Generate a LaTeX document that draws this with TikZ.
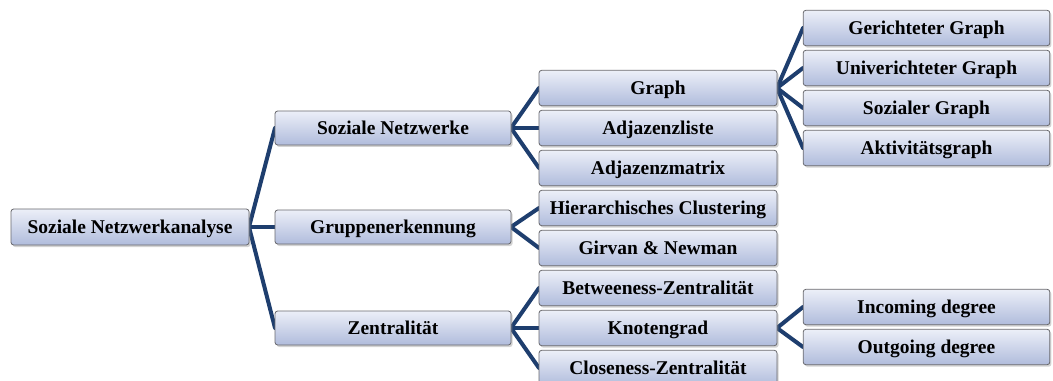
\documentclass[tikz,border=0pt]{standalone}
\usepackage{fontspec}
\setmainfont{Liberation Serif}
\usetikzlibrary{shadows}
\definecolor{edgeblue}{RGB}{30,62,110}
\definecolor{boxtop}{RGB}{236,239,248}
\definecolor{boxbot}{RGB}{176,188,220}
\definecolor{boxline}{RGB}{105,105,110}
\tikzset{
  box/.style={draw=boxline, line width=0.6pt, rounded corners=2pt,
    top color=boxtop, bottom color=boxbot,
    drop shadow={shadow xshift=1.2pt, shadow yshift=-1.5pt, opacity=0.35},
    font=\fontsize{14.6}{16}\selectfont\bfseries, inner sep=0pt,
    text height=9.6pt, text depth=0pt},
  rootbox/.style={box, minimum width=178.5pt, minimum height=27pt},
  lonebox/.style={box, minimum width=177pt, minimum height=25.5pt},
  ltwobox/.style={box, minimum width=178.5pt, minimum height=26.5pt},
  lthreebox/.style={box, minimum width=185pt, minimum height=26.5pt},
  conn/.style={draw=edgeblue, line width=3pt, line cap=round}
}
\begin{document}
\begin{tikzpicture}[x=0.75pt,y=-0.75pt]
\clip (0,0) rectangle (1053,381);
\useasboundingbox (0,0) rectangle (1053,381);
% edges first
\coordinate (rootE) at (249,227);
\coordinate (snW) at (275,128);
\coordinate (snE) at (511,128);
\coordinate (geW) at (275,227);
\coordinate (geE) at (511,227);
\coordinate (zeW) at (275,328);
\coordinate (zeE) at (511,328);
\coordinate (grW) at (539,88);
\coordinate (grE) at (777,88);
\coordinate (alW) at (539,128);
\coordinate (amW) at (539,168);
\coordinate (hcW) at (539,208);
\coordinate (gnW) at (539,248);
\coordinate (bzW) at (539,288);
\coordinate (kgW) at (539,328);
\coordinate (kgE) at (777,328);
\coordinate (czW) at (539,368);
\coordinate (ggW) at (803,28);
\coordinate (ugW) at (803,68);
\coordinate (sgW) at (803,108);
\coordinate (agW) at (803,148);
\coordinate (idW) at (803,307);
\coordinate (odW) at (803,347);
\draw[conn] (snW) -- (rootE) -- (zeW);
\draw[conn] (rootE) -- (geW);
\draw[conn] (grW) -- (snE) -- (amW);
\draw[conn] (snE) -- (alW);
\draw[conn] (hcW) -- (geE) -- (gnW);
\draw[conn] (bzW) -- (zeE) -- (czW);
\draw[conn] (zeE) -- (kgW);
\draw[conn] (ggW) -- (grE) -- (agW);
\draw[conn] (ugW) -- (grE) -- (sgW);
\draw[conn] (idW) -- (kgE) -- (odW);
% nodes
\node[rootbox] (root) at (130,227) {Soziale Netzwerkanalyse};
\node[lonebox] (sn) at (393,128) {Soziale Netzwerke};
\node[lonebox] (ge) at (393,227) {Gruppenerkennung};
\node[lonebox] (ze) at (393,328) {Zentralität};
\node[ltwobox] (gr) at (658,88) {Graph};
\node[ltwobox] (al) at (658,128) {Adjazenzliste};
\node[ltwobox] (am) at (658,168) {Adjazenzmatrix};
\node[ltwobox] (hc) at (658,208) {Hierarchisches Clustering};
\node[ltwobox] (gn) at (658,248) {Girvan \& Newman};
\node[ltwobox] (bz) at (658,288) {Betweeness-Zentralität};
\node[ltwobox] (kg) at (658,328) {Knotengrad};
\node[ltwobox] (cz) at (658,368) {Closeness-Zentralität};
\node[lthreebox] (gg) at (926.5,28) {Gerichteter Graph};
\node[lthreebox] (ug) at (926.5,68) {Univerichteter Graph};
\node[lthreebox] (sg) at (926.5,108) {Sozialer Graph};
\node[lthreebox] (ag) at (926.5,148) {Aktivitätsgraph};
\node[lthreebox] (id) at (926.5,307) {Incoming degree};
\node[lthreebox] (od) at (926.5,347) {Outgoing degree};
\end{tikzpicture}
\end{document}
